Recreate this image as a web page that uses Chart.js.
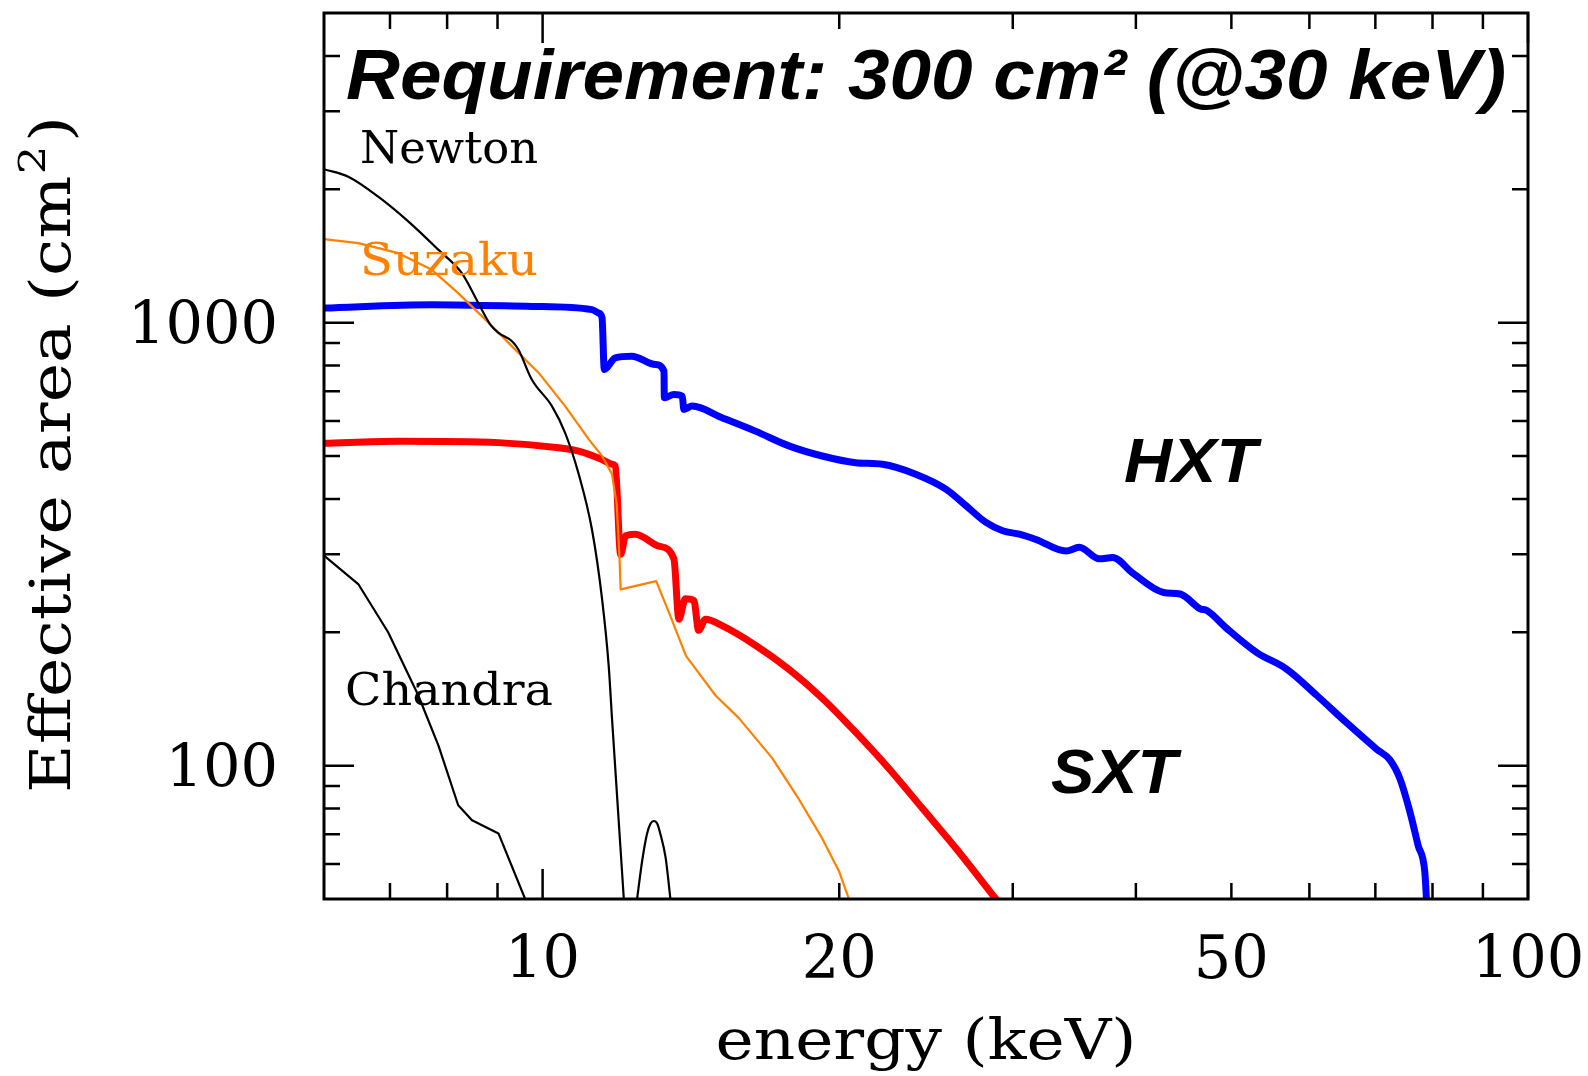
<!DOCTYPE html>
<html>
<head>
<meta charset="utf-8">
<title>Effective area comparison</title>
<script src="https://cdn.jsdelivr.net/npm/chart.js@4/dist/chart.umd.min.js"></script>
<style>
  html, body { margin: 0; padding: 0; background: #ffffff; }
  #wrap { width: 1588px; height: 1076px; }
</style>
</head>
<body>
<div id="wrap"><canvas id="c" width="1588" height="1076"></canvas></div>
<script>
// Energy (keV) and effective area (cm^2) for each telescope
const newtonEnergy = [6.0, 6.35, 6.81, 7.31, 7.84, 8.28, 8.64, 8.85, 9.02, 9.31, 9.45, 9.75, 10.22, 10.54, 10.88, 11.22, 11.49, 11.67, 11.76, 12.09, 12.28, 12.47, 12.62, 12.76, 12.87, 12.97, 13.07, 13.17, 13.33, 13.48];
const newtonArea   = [2220, 2135, 1925, 1691, 1460, 1293, 1088, 990, 948, 908, 870, 744, 648, 564, 455, 342, 238, 168, 128, 50, null, 50, 61, 70, 74, 75, 74, 70, 62, 50];

const suzakuEnergy = [6.0, 6.50, 7.14, 7.72, 8.21, 8.75, 9.31, 9.91, 10.54, 11.14, 11.49, 11.76, 11.89, 11.97, 12.00, 13.04, 13.43, 13.98, 14.52, 14.98, 15.82, 17.10, 18.20, 19.22, 20.00, 20.46];
const suzakuArea   = [1543, 1512, 1435, 1316, 1166, 1016, 884, 770, 648, 545, 500, 455, 389, 293, 250, 261, 222, 177, 158, 144, 128, 104, 84, 68.5, 57.6, 50];

const chandraEnergy = [6.0, 6.50, 6.97, 7.48, 7.84, 8.21, 8.48, 9.02, 9.60];
const chandraArea   = [298, 257, 200, 144, 111, 81.4, 75.3, 70.3, 50];

const sxtEnergy = [6.0, 7.14, 9.02, 10.38, 10.88, 11.49, 11.76, 11.85, 12.0, 12.14, 12.42, 13.12, 13.59, 13.75, 13.96, 14.24, 14.40, 14.63, 15.21, 16.44, 17.78, 19.22, 20.78, 22.47, 24.30, 26.28, 28.84];
const sxtArea   = [534, 540, 536, 522, 513, 491, 479, 475, 300, 330, 333, 313, 293, 214, 238, 236, 202, 214, 207, 187, 165, 142, 119, 98.4, 80, 65, 50];

const hxtEnergy = [6.0, 7.72, 9.75, 11.22, 11.40, 11.49, 11.55, 11.85, 12.32, 13.02, 13.28, 13.29, 13.59, 13.86, 13.91, 14.18, 15.21, 16.44, 17.78, 19.22, 20.78, 22.12, 23.91, 25.66, 26.90, 28.18, 29.30, 30.47, 31.67, 33.98, 35.05, 36.73, 37.89, 39.71, 42.67, 44.36, 46.49, 47.22, 49.47, 53.07, 56.93, 61.06, 65.44, 70.19, 72.42, 74.12, 75.88, 77.35, 78.57, 78.88];
const hxtArea   = [1079, 1098, 1088, 1070, 1051, 1026, 784, 833, 840, 804, 777, 677, 688, 682, 637, 648, 610, 569, 527, 500, 483, 479, 455, 421, 386, 354, 339, 333, 324, 305, 311, 293, 295, 272, 246, 244, 226, 224, 204, 180, 165, 144, 125, 109, 103, 93.5, 78.7, 66.1, 57.6, 50];

// Axis ranges and ticks
const energyRange = [6, 100];
const areaRange = [50, 5000];
const energyTickLabels = [10, 20, 50, 100];
const areaTickLabels = [100, 1000];
const energyMajorTicks = [10, 100];
const energyMinorTicks = [7, 8, 9, 20, 30, 40, 50, 60, 70, 80, 90];
const areaMajorTicks = [100, 1000];
const areaMinorTicks = [60, 70, 80, 90, 200, 300, 400, 500, 600, 700, 800, 900, 2000, 3000, 4000];

const toPoints = (xs, ys) => xs.map((x, i) => ({ x: x, y: ys[i] }));

const SERIF = '"DejaVu Serif", serif';
const SANS = '"Liberation Sans", Arial, sans-serif';

// Draw text squeezed/stretched horizontally to a given width
function fitText(ctx, text, x, y, width, align) {
  const w = ctx.measureText(text).width;
  const s = width / w;
  ctx.save();
  ctx.translate(x, y);
  ctx.scale(s, 1);
  ctx.textAlign = align || 'left';
  ctx.fillText(text, 0, 0);
  ctx.restore();
}

const framePlugin = {
  id: 'frame',
  afterDatasetsDraw(chart) {
    const ctx = chart.ctx;
    const { left, right, top, bottom } = chart.chartArea;
    const xs = chart.scales.x, ys = chart.scales.y;
    const majorLen = 30, minorLen = 16;

    ctx.save();
    ctx.strokeStyle = '#000';
    ctx.lineWidth = 2.5;
    ctx.lineCap = 'butt';
    ctx.beginPath();
    const xTick = (v, len) => {
      const p = xs.getPixelForValue(v);
      ctx.moveTo(p, bottom); ctx.lineTo(p, bottom - len);
      ctx.moveTo(p, top); ctx.lineTo(p, top + len);
    };
    const yTick = (v, len) => {
      const p = ys.getPixelForValue(v);
      ctx.moveTo(left, p); ctx.lineTo(left + len, p);
      ctx.moveTo(right, p); ctx.lineTo(right - len, p);
    };
    energyMinorTicks.forEach(v => xTick(v, minorLen));
    energyMajorTicks.forEach(v => xTick(v, majorLen));
    areaMinorTicks.forEach(v => yTick(v, minorLen));
    areaMajorTicks.forEach(v => yTick(v, majorLen));
    ctx.stroke();

    ctx.lineWidth = 3;
    ctx.strokeRect(left, top, right - left, bottom - top);

    // tick labels
    ctx.fillStyle = '#000';
    ctx.font = '59px ' + SERIF;
    ctx.textBaseline = 'alphabetic';
    ctx.textAlign = 'center';
    energyTickLabels.forEach(v => {
      ctx.fillText(String(v), xs.getPixelForValue(v), bottom + 79);
    });
    ctx.textAlign = 'right';
    areaTickLabels.forEach(v => {
      ctx.fillText(String(v), left - 46, ys.getPixelForValue(v) + 21);
    });

    // x axis title
    ctx.font = '56px ' + SERIF;
    fitText(ctx, 'energy (keV)', (left + right) / 2, bottom + 160, 421, 'center');

    // y axis title with superscript
    ctx.save();
    ctx.translate(left - 254, bottom - 106);
    ctx.rotate(-Math.PI / 2);
    ctx.textAlign = 'left';
    ctx.font = '56px ' + SERIF;
    const part1 = 'Effective area (cm';
    const w1 = ctx.measureText(part1).width;
    const w3 = ctx.measureText(')').width;
    ctx.font = '38px ' + SERIF;
    const w2 = ctx.measureText('2').width + 4;
    const s = 677 / (w1 + w2 + w3);
    ctx.scale(s, 1);
    ctx.font = '56px ' + SERIF;
    ctx.fillText(part1, 0, 0);
    ctx.font = '38px ' + SERIF;
    ctx.fillText('2', w1 + 1, -25);
    ctx.font = '56px ' + SERIF;
    ctx.fillText(')', w1 + w2, 0);
    ctx.restore();

    // telescope labels
    ctx.textAlign = 'left';
    ctx.font = '45px ' + SERIF;
    ctx.fillStyle = '#000';
    fitText(ctx, 'Newton', left + 36, top + 150, 178, 'left');
    ctx.fillStyle = '#ff8000';
    fitText(ctx, 'Suzaku', left + 36, top + 262, 178, 'left');
    ctx.fillStyle = '#000';
    fitText(ctx, 'Chandra', left + 21, top + 692, 208, 'left');

    ctx.font = 'bold italic 63px ' + SANS;
    fitText(ctx, 'HXT', 1124, 482, 133, 'left');
    fitText(ctx, 'SXT', 1051, 793, 126, 'left');

    ctx.font = 'bold italic 71px ' + SANS;
    fitText(ctx, 'Requirement: 300 cm\u00B2 (@30 keV)', 346, 99, 1160, 'left');
    ctx.restore();
  }
};

const thin = { showLine: true, pointRadius: 0, borderWidth: 2.2, fill: false, spanGaps: false, borderJoinStyle: 'round' };
const thick = { showLine: true, pointRadius: 0, borderWidth: 7, fill: false, borderCapStyle: 'round', borderJoinStyle: 'round', cubicInterpolationMode: 'monotone' };

new Chart(document.getElementById('c'), {
  type: 'scatter',
  data: {
    datasets: [
      Object.assign({}, thin, { label: 'Newton', data: toPoints(newtonEnergy, newtonArea), borderColor: '#000000', order: 1, cubicInterpolationMode: 'monotone' }),
      Object.assign({}, thin, { label: 'Chandra', data: toPoints(chandraEnergy, chandraArea), borderColor: '#000000', order: 1 }),
      Object.assign({}, thin, { label: 'Suzaku', data: toPoints(suzakuEnergy, suzakuArea), borderColor: '#ff8000', order: 2 }),
      Object.assign({}, thick, { label: 'SXT', data: toPoints(sxtEnergy, sxtArea), borderColor: '#ff0000', order: 4 }),
      Object.assign({}, thick, { label: 'HXT', data: toPoints(hxtEnergy, hxtArea), borderColor: '#0000ff', order: 5 })
    ]
  },
  options: {
    responsive: false,
    animation: false,
    devicePixelRatio: 1,
    layout: { padding: { left: 324, right: 60, top: 13, bottom: 177 } },
    plugins: { legend: { display: false }, tooltip: { enabled: false } },
    scales: {
      x: { type: 'logarithmic', min: energyRange[0], max: energyRange[1], display: false },
      y: { type: 'logarithmic', min: areaRange[0], max: areaRange[1], display: false }
    }
  },
  plugins: [framePlugin]
});
</script>
</body>
</html>
